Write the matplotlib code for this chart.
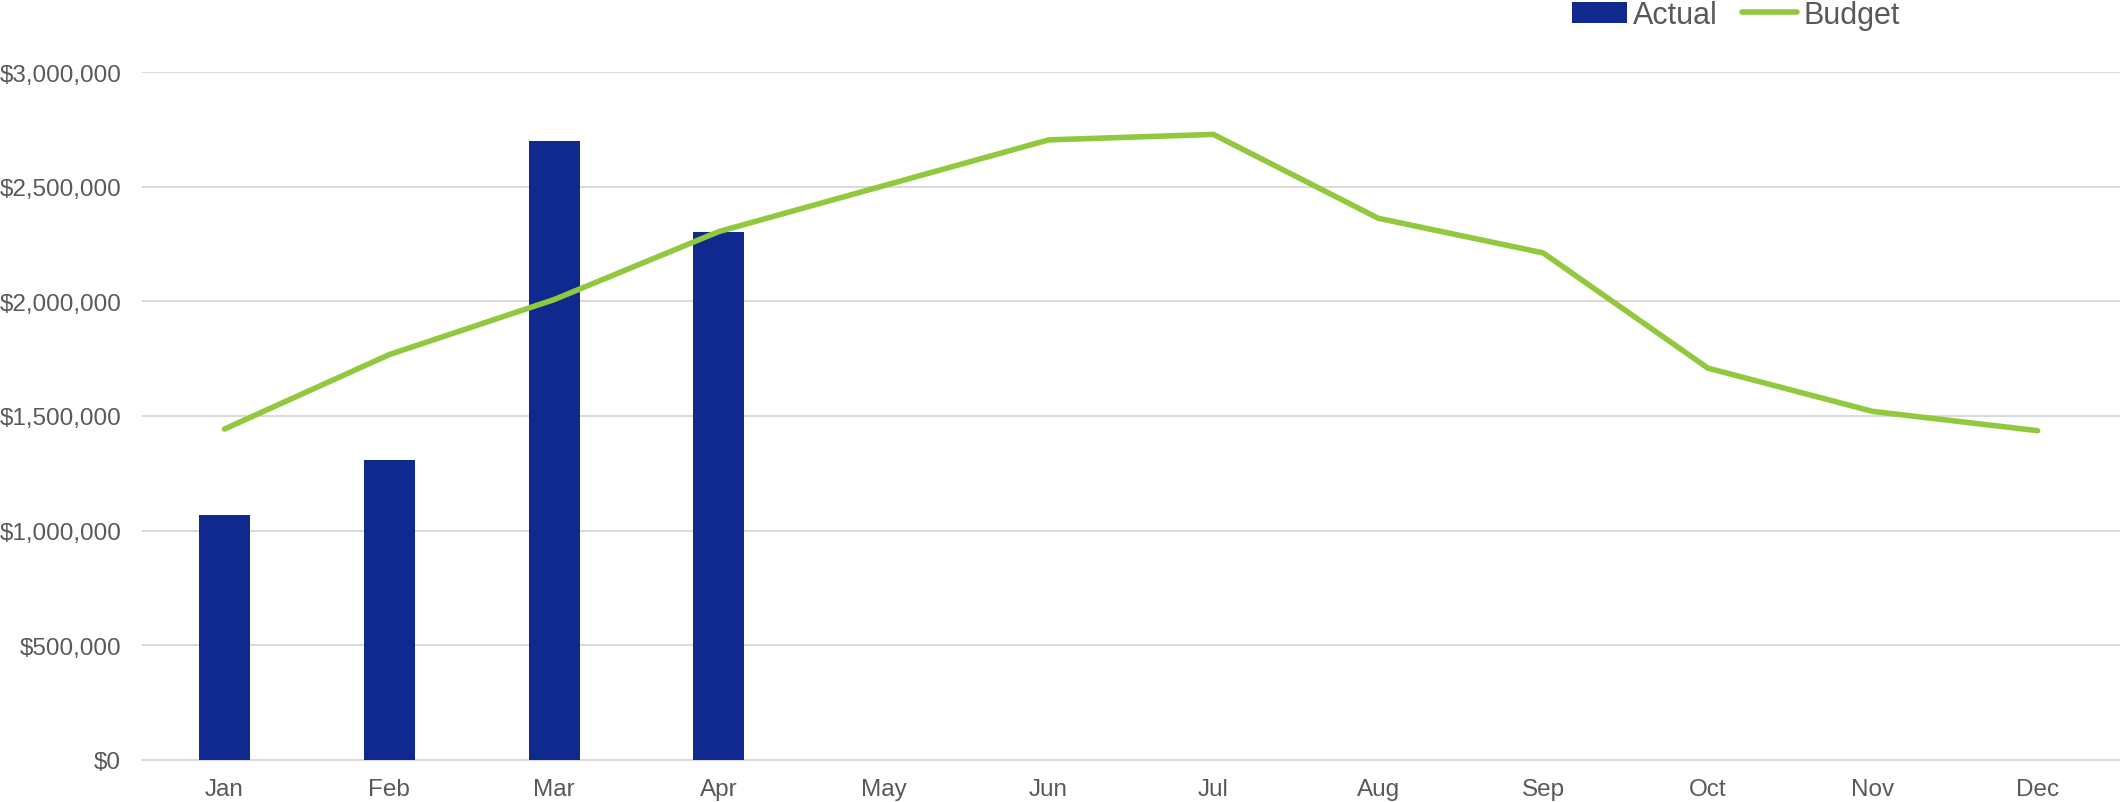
import matplotlib.pyplot as plt
from matplotlib.ticker import FuncFormatter

months = ['Jan', 'Feb', 'Mar', 'Apr', 'May', 'Jun', 'Jul', 'Aug', 'Sep', 'Oct', 'Nov', 'Dec']
actual = [1070000, 1307000, 2700000, 2305000]
budget = [1443000, 1768000, 2008000, 2305000, 2505000, 2705000, 2729000,
          2363000, 2212000, 1709000, 1520000, 1436000]

plt.rcParams['font.family'] = ['Liberation Sans', 'DejaVu Sans']

fig = plt.figure(figsize=(21.2, 8.03), dpi=100)
ax = fig.add_axes([142 / 2120, 1 - 760.7 / 803, 1 - 142 / 2120, (760.7 - 73.3) / 803])

x = list(range(len(months)))
bars = ax.bar(x[:len(actual)], actual, width=0.31, color='#10298E', label='Actual', zorder=3)
line, = ax.plot(x, budget, color='#92C83E', linewidth=4, solid_capstyle='round',
                solid_joinstyle='round', label='Budget', zorder=4)

ax.set_xlim(-0.5, 11.5)
ax.set_ylim(0, 3000000)
ax.set_yticks(range(0, 3000001, 500000))
ax.yaxis.set_major_formatter(FuncFormatter(lambda v, p: '${:,.0f}'.format(v)))
ax.set_xticks(x)
ax.set_xticklabels(months)

ax.grid(axis='y', color='#D9D9D9', linewidth=1.4, zorder=0)
for s in ['top', 'right', 'left']:
    ax.spines[s].set_visible(False)
ax.spines['bottom'].set_color('#D9D9D9')
ax.spines['bottom'].set_linewidth(1.4)
ax.tick_params(axis='both', length=0, labelsize=17.5, labelcolor='#595959')
ax.tick_params(axis='y', pad=15)
ax.tick_params(axis='x', pad=13)

fig.legend([bars, line], ['Actual', 'Budget'], loc='center',
           bbox_to_anchor=(1736 / 2120, 1 - 16 / 803), ncol=2,
           frameon=False, fontsize=22, labelcolor='#595959', handlelength=1.8,
           handletextpad=0.2, columnspacing=0.8, borderaxespad=0)

fig.savefig('out.png', dpi=100)
